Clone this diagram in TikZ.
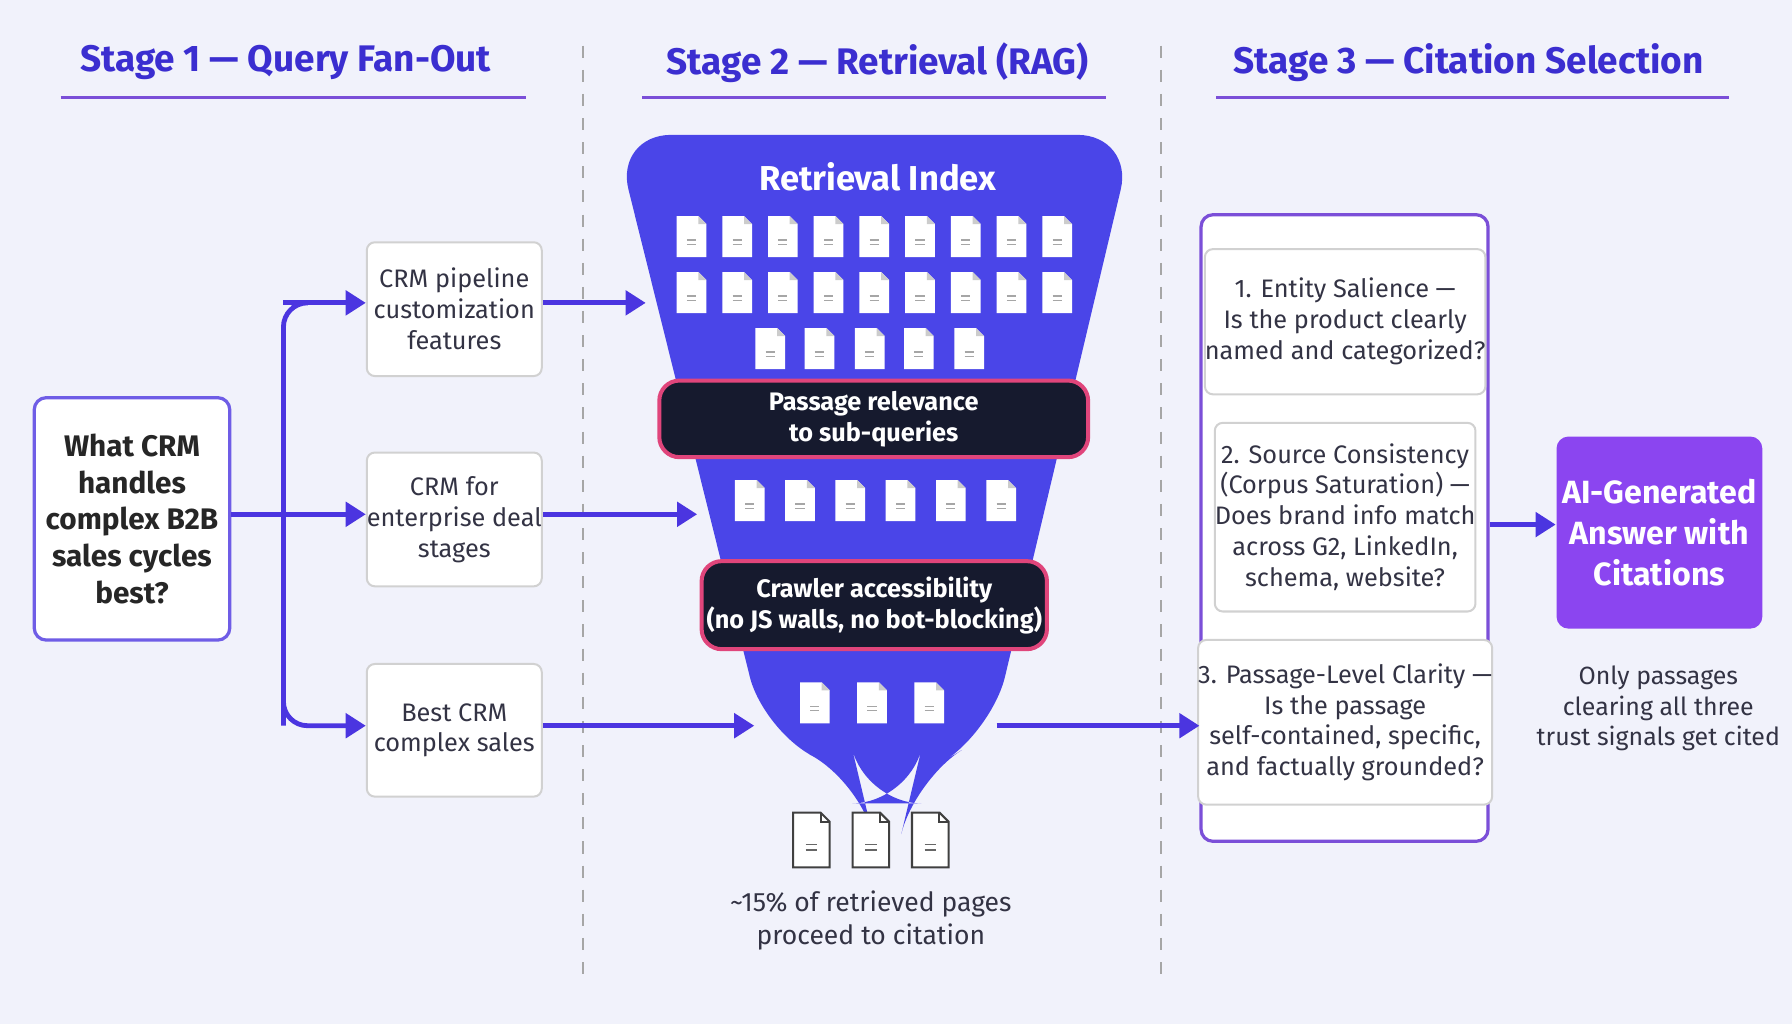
\documentclass[tikz,border=0pt]{standalone}
\usepackage{fontspec}
\setmainfont{Fira Sans}
\usetikzlibrary{arrows.meta}
\definecolor{bg}{HTML}{F1F2FB}
\definecolor{ind}{HTML}{3B2ED0}
\definecolor{uline}{HTML}{7B4FD8}
\definecolor{arr}{HTML}{4B35E0}
\definecolor{fun}{HTML}{4A45E8}
\definecolor{dark}{HTML}{161A2E}
\definecolor{pink}{HTML}{E0457B}
\definecolor{purp}{HTML}{8B45F0}
\definecolor{txt}{HTML}{333344}
\tikzset{
 ttl/.style={font=\fontsize{9.2}{11}\selectfont\bfseries,text=ind},
 body/.style={font=\fontsize{6.3}{7.7}\selectfont,text=txt,align=center},
 subbox/.style={draw=black!18,fill=white,rounded corners=2pt,line width=0.5pt},
 innerbox/.style={draw=black!18,fill=white,rounded corners=2pt,line width=0.5pt},
 filt/.style={draw=pink,fill=dark,rounded corners=5pt,line width=1pt},
 flow/.style={draw=arr,line width=1.2pt,-{Triangle[length=5pt,width=6pt]}},
 doc/.pic={\fill[white] (-13,-18) -- (6,-18) -- (13,-11) -- (13,18) -- (-13,18) -- cycle;
   \fill[black!20] (6,-18) -- (6,-11) -- (13,-11) -- cycle;
   \draw[black!35,line width=0.3pt] (-4,3)--(4,3) (-4,7)--(4,7);},
 odoc/.pic={\draw[fill=white,draw=black!75,line width=0.5pt] (-16,-24) -- (8,-24) -- (16,-16) -- (16,24) -- (-16,24) -- cycle;
   \draw[black!75,line width=0.5pt] (8,-24) -- (8,-16) -- (16,-16);
   \draw[black!60,line width=0.4pt] (-5,4)--(5,4) (-5,9)--(5,9);}
}
\begin{document}
\begin{tikzpicture}[x=0.01cm,y=-0.01cm]
\fill[bg] (0,0) rectangle (1568,896);
\useasboundingbox (0,0) rectangle (1568,896);
% titles
\node[ttl] (t1) at (250,55) {Stage 1 — Query Fan-Out};
\node[ttl] (t2) at (768,55) {Stage 2 — Retrieval (RAG)};
\node[ttl] (t3) at (1285,55) {Stage 3 — Citation Selection};
\draw[uline,line width=0.8pt] (53,85)--(460,85) (562,85)--(968,85) (1064,85)--(1513,85);
\draw[black!35,dashed,line width=0.4pt] (510,40)--(510,855) (1016,40)--(1016,855);
% query
\node[draw=arr!80,fill=white,rounded corners=3pt,line width=0.8pt,minimum width=171\pgflinewidth,
  font=\fontsize{7.4}{9.1}\selectfont\bfseries,align=center,text=black!85,
  inner sep=0pt,minimum width=1.71cm,minimum height=2.12cm] (q) at (115.5,454) {What CRM\\handles\\complex B2B\\sales cycles\\best?};
% sub boxes
\node[subbox,body,minimum width=1.53cm,minimum height=1.17cm,inner sep=0pt] (s1) at (397.5,270.5) {CRM pipeline\\customization\\features};
\node[subbox,body,minimum width=1.53cm,minimum height=1.17cm,inner sep=0pt] (s2) at (397.5,454.5) {CRM for\\enterprise deal\\stages};
\node[subbox,body,minimum width=1.53cm,minimum height=1.16cm,inner sep=0pt] (s3) at (397.5,639) {Best CRM\\complex sales};
\coordinate (j) at (248,450);
\draw[arr,line width=1.2pt] (q.east|-j) -- (j);
\draw[arr,line width=1.2pt,rounded corners=6pt] (248,635) -- (248,265) -- (255,265);
\draw[flow] (248,265) -- (s1.west|-0,265);
\draw[flow] (j) -- (s2.west|-j);
\draw[flow,rounded corners=6pt] (248,450) -- (248,635) -- (s3.west|-0,635);
% funnel
\fill[fun,rounded corners=14pt] (538,118) -- (992,118) -- (868,640) -- (800,682) -- (795,703) -- (757,703) -- (752,682) -- (668,640) -- cycle;
\node[font=\fontsize{8.6}{10}\selectfont\bfseries,text=white] (ri) at (768,155) {Retrieval Index};
\foreach \x in {605,645,...,926} {\pic at (\x,207) {doc}; \pic at (\x,256) {doc};}
\foreach \x in {674,717,761,804,848} {\pic at (\x,305) {doc};}
\foreach \x in {656,700,744,788,832,876} {\pic at (\x,438) {doc};}
\foreach \x in {713,763,813} {\pic at (\x,615) {doc};}
\foreach \x in {710,762,814} {\pic at (\x,735) {odoc};}
\node[filt,minimum width=3.75cm,minimum height=0.67cm,inner sep=0pt,font=\fontsize{6.3}{7.7}\selectfont\bfseries,text=white,align=center] (f1) at (764.5,366.5) {Passage relevance\\to sub-queries};
\node[filt,minimum width=3.02cm,minimum height=0.77cm,inner sep=0pt,font=\fontsize{6.3}{7.7}\selectfont\bfseries,text=white,align=center] (f2) at (765,529.5) {Crawler accessibility\\(no JS walls, no bot-blocking)};
\coordinate (e1) at (565,265); \coordinate (e2) at (610,450); \coordinate (e3) at (660,635);
\draw[flow] (s1.east|-e1) -- (e1);
\draw[flow] (s2.east|-e2) -- (e2);
\draw[flow] (s3.east|-e3) -- (e3);
\node[body,font=\fontsize{6.6}{8.2}\selectfont] (pct) at (762,805) {\char`~15\% of retrieved pages\\proceed to citation};
% stage 3
\node[draw=uline,fill=white,rounded corners=3pt,line width=0.8pt,minimum width=2.51cm,minimum height=5.48cm,inner sep=0pt] (c) at (1176.5,462) {};
\node[innerbox,body,minimum width=2.24cm,minimum height=1.27cm,inner sep=0pt] (b1) at (1177,281.5) {1. Entity Salience —\\Is the product clearly\\named and categorized?};
\node[innerbox,body,minimum width=2.24cm,minimum height=1.65cm,inner sep=0pt] (b2) at (1177,452.5) {2. Source Consistency\\(Corpus Saturation) —\\Does brand info match\\across G2, LinkedIn,\\schema, website?};
\node[innerbox,body,minimum width=2.24cm,minimum height=1.44cm,inner sep=0pt] (b3) at (1177,632) {3. Passage-Level Clarity —\\Is the passage\\self-contained, specific,\\and factually grounded?};
\coordinate (fo) at (872,635);
\draw[flow] (fo) -- (c.west|-fo);
\node[fill=purp,rounded corners=3pt,minimum width=1.80cm,minimum height=1.68cm,inner sep=0pt,
  font=\fontsize{8}{10.2}\selectfont\bfseries,text=white,align=center] (a) at (1452,466) {AI-Generated\\Answer with\\Citations};
\draw[flow] (c.east|-0,459) -- (a.west|-0,459);
\node[body,font=\fontsize{6.2}{7.6}\selectfont] (cap) at (1451,620) {Only passages\\clearing all three\\trust signals get cited};
\end{tikzpicture}
\end{document}
